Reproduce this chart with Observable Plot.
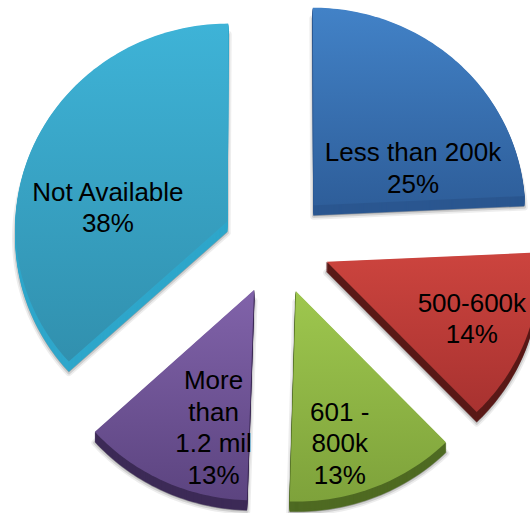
<!DOCTYPE html>
<html><head><meta charset="utf-8">
<script src="https://cdn.jsdelivr.net/npm/d3@7"></script>
<script src="https://cdn.jsdelivr.net/npm/@observablehq/plot@0.6"></script>
<style>html,body{margin:0;padding:0;background:#fff;overflow:hidden}</style>
</head><body><div id="chart"></div>
<script>
// ---- data ----
const categories = ["Less than 200k", "500-600k", "601 - 800k", "More than 1.2 mil", "Not Available"];
const percents = [25, 14, 13, 13, 38];
const wrappedNames = ["Less than 200k", "500-600k", "601 -\n800k", "More\nthan\n1.2 mil", "Not Available"];

// ---- style ----
const faceTop    = ["#4282c7", "#cc443e", "#9ec74e", "#8163aa", "#3eb3d7"];
const faceBottom = ["#2e5e9a", "#a83230", "#7ea23b", "#5c4480", "#3190ae"];
const sideColor  = ["#2b5790", "#5a1a18", "#4f6a22", "#3d2b57", "#2fa7cb"];
// label placement within each slice: fraction of the slice's angular span, fraction of radius
const labelSpanFrac = [0.78, 0.5, 0.62, 0.31, 0.38];
const labelRadFrac  = [0.51, 0.73, 0.75, 0.68, 0.57];

// ---- layout (mild perspective view of an exploded pie) ----
const W = 530, H = 513;
const cx = 276, cy = 242, R = 212, tilt = 0.96, persp = 9500, explode = 54, depth = 10;

const total = d3.sum(percents);
let acc = 0;
const slices = categories.map((c, i) => {
  const a0 = acc / total * 2 * Math.PI;
  acc += percents[i];
  const a1 = acc / total * 2 * Math.PI;
  const m = (a0 + a1) / 2;
  return {i, c, a0, a1, m, X0: explode * Math.sin(m), Y0: -explode * Math.cos(m)};
});

function project(X, Y, dy) {
  const f = 1 / (1 - Y / persp);
  return {x: cx + X * f, y: cy + tilt * Y * f + dy};
}

function facePoints(s, dy, key) {
  const p0 = project(s.X0, s.Y0, dy);
  const pts = [{key, x: p0.x, y: p0.y}];
  const n = Math.max(8, Math.ceil((s.a1 - s.a0) / 0.02));
  for (let k = 0; k <= n; k++) {
    const a = s.a0 + (s.a1 - s.a0) * k / n;
    const p = project(s.X0 + R * Math.sin(a), s.Y0 - R * Math.cos(a), dy);
    pts.push({key, x: p.x, y: p.y});
  }
  pts.push({key, x: p0.x, y: p0.y});
  return pts;
}

const marks = [];
// gradient defs
marks.push(() => {
  const defs = d3.create("svg:defs");
  slices.forEach(s => {
    const g = defs.append("linearGradient").attr("id", "face" + s.i)
      .attr("x1", 0).attr("y1", 0).attr("x2", 0).attr("y2", 1);
    g.append("stop").attr("offset", "0%").attr("stop-color", faceTop[s.i]);
    g.append("stop").attr("offset", "100%").attr("stop-color", faceBottom[s.i]);
  });
  return defs.node();
});
// soft shadow halo under each slice
slices.forEach(s => {
  const sh = facePoints(s, depth + 1, "s");
  marks.push(Plot.line(sh, {x: "x", y: "y", z: "key", fill: "none", stroke: "#000", strokeOpacity: 0.07, strokeWidth: 7, strokeLinejoin: "round"}));
  marks.push(Plot.line(sh, {x: "x", y: "y", z: "key", fill: "#000", fillOpacity: 0.2, stroke: "#000", strokeOpacity: 0.12, strokeWidth: 3.5, strokeLinejoin: "round"}));
});
// extruded sides
slices.forEach(s => {
  const pts = [];
  for (let k = depth; k >= 1; k--) pts.push(...facePoints(s, k, "d" + k));
  marks.push(Plot.line(pts, {x: "x", y: "y", z: "key", fill: sideColor[s.i], stroke: sideColor[s.i], strokeWidth: 0.5}));
});
// faces
slices.forEach(s => {
  marks.push(Plot.line(facePoints(s, 0, "f"), {x: "x", y: "y", z: "key", fill: `url(#face${s.i})`, stroke: "none"}));
});
// labels
const labels = slices.map(s => {
  const a = s.a0 + (s.a1 - s.a0) * labelSpanFrac[s.i];
  const rho = R * labelRadFrac[s.i];
  const p = project(s.X0 + rho * Math.sin(a), s.Y0 - rho * Math.cos(a), 0);
  return {x: p.x, y: p.y, text: wrappedNames[s.i] + "\n" + percents[s.i] + "%"};
});
marks.push(Plot.text(labels, {x: "x", y: "y", text: "text", fill: "#000", fontSize: 26, lineHeight: 1.21, lineAnchor: "middle", textAnchor: "middle"}));

const chart = Plot.plot({
  width: W, height: H,
  margin: 0,
  x: {domain: [0, W], range: [0, W], axis: null},
  y: {domain: [0, H], range: [0, H], axis: null},
  style: {fontFamily: "'Liberation Sans', Arial, sans-serif", background: "#fff"},
  marks
});
document.getElementById("chart").appendChild(chart);
</script>
</body></html>
